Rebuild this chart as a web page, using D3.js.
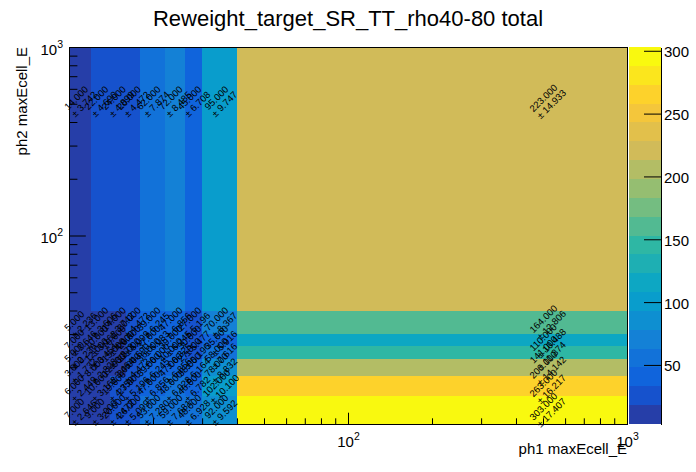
<!DOCTYPE html>
<html><head><meta charset="utf-8">
<script src="https://cdn.jsdelivr.net/npm/d3@7"></script>
<style>
body{margin:0;background:#fff}
svg{display:block}
text{font-family:"Liberation Sans",Arial,Helvetica,sans-serif;fill:#000}
</style>
</head><body>
<svg id="chart" width="696" height="472"></svg>
<script>
// ---------------- data ----------------
const chartTitle = "Reweight_target_SR_TT_rho40-80 total";
const xTitle = "ph1 maxEcell_E";
const yTitle = "ph2 maxEcell_E";

// bin edges
const xEdges = [10, 12, 14, 16, 18, 22, 26, 30, 40, 1000];
const yEdges = [10, 14, 18, 22, 26, 30, 40, 1000];

// bin contents, one array per y bin (bottom to top), one value per x bin
const row_10_14   = [7, 9, 20, 26, 53, 59, 48, 92, 303];
const row_14_18   = [6, 10, 19, 27, 47, 48, 46, 102, 263];
const row_18_22   = [3, 8, 12, 20, 39, 47, 38, 78, 200];
const row_22_26   = [5, 12, 15, 22, 36, 40, 27, 58, 141];
const row_26_30   = [7, 10, 16, 26, 37, 39, 30, 35, 110];
const row_30_40   = [5, 13, 14, 20, 39, 47, 27, 70, 164];
const row_40_1000 = [14, 22, 24, 20, 62, 72, 45, 95, 223];
const counts = [row_10_14, row_14_18, row_18_22, row_22_26, row_26_30, row_30_40, row_40_1000];

// axis ticks
const majorLogTicks = [100, 1000];
const minorLogTicks = [20, 30, 40, 50, 60, 70, 80, 90, 200, 300, 400, 500, 600, 700, 800, 900];
const zTicks = [50, 100, 150, 200, 250, 300];
const nContours = 20;

// ROOT kBird palette definition
const birdStops = [0.0000, 0.1250, 0.2500, 0.3750, 0.5000, 0.6250, 0.7500, 0.8750, 1.0000];
const birdRed   = [0.2082, 0.0592, 0.0780, 0.0232, 0.1802, 0.5301, 0.8186, 0.9956, 0.9764];
const birdGreen = [0.1664, 0.3599, 0.5041, 0.6419, 0.7178, 0.7492, 0.7328, 0.7862, 0.9832];
const birdBlue  = [0.5293, 0.8684, 0.8385, 0.7914, 0.6425, 0.4662, 0.3499, 0.1968, 0.0539];

// ---------------- layout ----------------
const FL = 69, FR = 627, FT = 47, FB = 424;   // frame
const PL = 629, PR = 661;                     // palette bar
const FONT = 15, SUP = 10.5, CELLFONT = 9.5;

const svg = d3.select("#chart");

// palette (255 colours, built like TColor::CreateGradientColorTable)
const NCOL = 255;
const palette = [];
for (let s = 1; s < birdStops.length; s++) {
  const nG = Math.floor(NCOL * birdStops[s]) - Math.floor(NCOL * birdStops[s - 1]);
  for (let c = 0; c < nG; c++) {
    const f = c / nG;
    palette.push(d3.rgb(
      255 * (birdRed[s - 1] + f * (birdRed[s] - birdRed[s - 1])),
      255 * (birdGreen[s - 1] + f * (birdGreen[s] - birdGreen[s - 1])),
      255 * (birdBlue[s - 1] + f * (birdBlue[s] - birdBlue[s - 1]))
    ).formatHex());
  }
}

const allVals = counts.flat();
const zmin = d3.min(allVals), zmax = d3.max(allVals);
const dz = zmax - zmin;
function levelColor(level) {
  let idx = Math.floor((level + 0.99) * NCOL / nContours);
  if (idx > NCOL - 1) idx = NCOL - 1;
  return palette[idx];
}
function cellColor(v) {
  const level = Math.floor(0.01 + (v - zmin) * nContours / dz);
  return levelColor(level);
}

const x = d3.scaleLog().domain([xEdges[0], xEdges[xEdges.length - 1]]).range([FL, FR]);
const y = d3.scaleLog().domain([yEdges[0], yEdges[yEdges.length - 1]]).range([FB, FT]);
const z = d3.scaleLinear().domain([zmin, zmax]).range([FB, FT]);

// cells
const cells = [];
counts.forEach((row, j) => row.forEach((v, i) => cells.push({i, j, v})));

svg.append("g").selectAll("rect").data(cells).join("rect")
  .attr("x", d => x(xEdges[d.i]))
  .attr("y", d => y(yEdges[d.j + 1]))
  .attr("width", d => x(xEdges[d.i + 1]) - x(xEdges[d.i]))
  .attr("height", d => y(yEdges[d.j]) - y(yEdges[d.j + 1]))
  .attr("fill", d => cellColor(d.v))
  .attr("shape-rendering", "crispEdges");

// cell texts (value and Poisson error sqrt(N), rotated 45 degrees, at linear bin centre)
const tg = svg.append("g");
cells.forEach(d => {
  const cx = x((xEdges[d.i] + xEdges[d.i + 1]) / 2);
  const cy = y((yEdges[d.j] + yEdges[d.j + 1]) / 2);
  const g = tg.append("g").attr("transform", `translate(${cx},${cy}) rotate(-45)`);
  const t1 = g.append("text").attr("font-size", CELLFONT).attr("y", -5).attr("dy", "0.36em")
    .text(d.v.toFixed(3));
  const t2 = g.append("text").attr("font-size", CELLFONT).attr("y", 5).attr("dy", "0.36em")
    .text("\u00b1 " + Math.sqrt(d.v).toFixed(3));
  const w = Math.max(t1.node().getComputedTextLength(), t2.node().getComputedTextLength());
  t1.attr("x", -w / 2);
  t2.attr("x", -w / 2);
});

// frame
svg.append("rect").attr("x", FL).attr("y", FT).attr("width", FR - FL).attr("height", FB - FT)
  .attr("fill", "none").attr("stroke", "#000").attr("stroke-width", 1).attr("shape-rendering", "crispEdges");

function supLabel(sel, anchor, yPos, xPos) {
  sel.selectAll(".tick text").each(function (d) {
    const t = d3.select(this);
    t.text(null).attr("font-size", FONT).attr("text-anchor", anchor).attr("dy", 0);
    if (yPos !== undefined) t.attr("y", yPos);
    if (xPos !== undefined) t.attr("x", xPos);
    t.append("tspan").text("10");
    t.append("tspan").attr("font-size", SUP).attr("dy", -6.6).text(Math.round(Math.log10(d)));
  });
}

// x axis
const gxMinor = svg.append("g").attr("transform", `translate(0,${FB})`)
  .call(d3.axisBottom(x).tickValues(minorLogTicks).tickSizeInner(-5.7).tickSizeOuter(0).tickFormat(""));
const gxMajor = svg.append("g").attr("transform", `translate(0,${FB})`)
  .call(d3.axisBottom(x).tickValues(majorLogTicks).tickSizeInner(-11.3).tickSizeOuter(0));
[gxMinor, gxMajor].forEach(g => { g.select(".domain").remove(); g.selectAll("line").attr("stroke", "#000"); g.attr("font-family", null); });
supLabel(gxMajor, "middle", 23);

// y axis
const gyMinor = svg.append("g").attr("transform", `translate(${FL},0)`)
  .call(d3.axisLeft(y).tickValues(minorLogTicks).tickSizeInner(-8.4).tickSizeOuter(0).tickFormat(""));
const gyMajor = svg.append("g").attr("transform", `translate(${FL},0)`)
  .call(d3.axisLeft(y).tickValues(majorLogTicks).tickSizeInner(-16.8).tickSizeOuter(0));
[gyMinor, gyMajor].forEach(g => { g.select(".domain").remove(); g.selectAll("line").attr("stroke", "#000"); g.attr("font-family", null); });
supLabel(gyMajor, "end", 7, -6);

// palette bar
const bands = d3.range(nContours);
svg.append("g").selectAll("rect").data(bands).join("rect")
  .attr("x", PL)
  .attr("width", PR - PL)
  .attr("y", i => z(zmin + (i + 1) * dz / nContours))
  .attr("height", i => z(zmin + i * dz / nContours) - z(zmin + (i + 1) * dz / nContours))
  .attr("fill", i => levelColor(i))
  .attr("shape-rendering", "crispEdges");

const gz = svg.append("g").attr("transform", `translate(${PR},0)`)
  .call(d3.axisRight(z).tickValues(zTicks).tickSizeInner(-17).tickSizeOuter(0).tickPadding(3));
gz.attr("font-family", null);
gz.select(".domain").attr("stroke", "#000").attr("shape-rendering", "crispEdges");
gz.selectAll("line").attr("stroke", "#000");
gz.selectAll("text").attr("font-size", FONT).attr("dy", "0.4em");

// titles
svg.append("text").attr("x", 348).attr("y", 26).attr("text-anchor", "middle")
  .attr("font-size", 22).text(chartTitle);
svg.append("text").attr("x", FR).attr("y", 454).attr("text-anchor", "end")
  .attr("font-size", FONT).text(xTitle);
svg.append("text").attr("transform", `translate(27,${FT}) rotate(-90)`).attr("text-anchor", "end")
  .attr("font-size", FONT).text(yTitle);
</script>
</body></html>
